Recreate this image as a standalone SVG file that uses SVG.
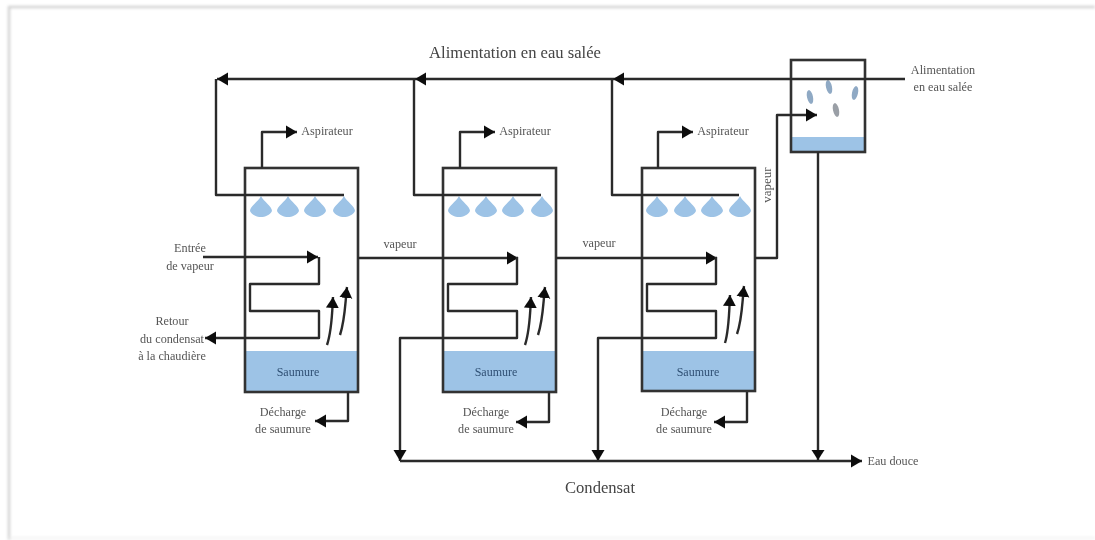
<svg xmlns="http://www.w3.org/2000/svg" width="1095" height="540" viewBox="0 0 1095 540">
<style>
.l{fill:none;stroke:#2b2b2b;stroke-width:2.4;stroke-linejoin:round}
.t{fill:none;stroke:#333;stroke-width:2.6}
.b{fill:#9dc3e6}
.n{fill:#9dc3e6}
text{font-family:"Liberation Serif",serif;fill:#555;font-size:12.2px;text-anchor:middle}
.big{font-size:16.6px;fill:#444}
.s{fill:#2f4f73;font-size:12px}
</style>
<defs>
<filter id="soft" x="-5%" y="-5%" width="110%" height="110%"><feGaussianBlur stdDeviation="0.75"/></filter>
<filter id="edge" x="-5%" y="-5%" width="110%" height="110%"><feGaussianBlur stdDeviation="1.5"/></filter>
<marker id="a" markerUnits="userSpaceOnUse" markerWidth="12" markerHeight="14" refX="11" refY="7" orient="auto"><path d="M0 0.5L11 7L0 13.5z" fill="#111"/></marker>
<g id="nozzle"><path d="M0 -10C3 -4 11 0 11 5C9 9 4 11 0 11C-4 11 -9 9 -11 5C-11 0 -3 -4 0 -10z" class="n"/></g>
</defs>
<rect width="1095" height="540" fill="#fff"/>
<g filter="url(#edge)" id="frame"><path d="M9 540V7H1095" fill="none" stroke="#c8c8c8" stroke-width="2"/><path d="M9 538H1095" fill="none" stroke="#eee" stroke-width="1.5"/></g>
<g filter="url(#soft)">
<g id="evaporator-1">
<rect x="245" y="351" width="113" height="41" class="b"/>
<rect x="245" y="168" width="113" height="224" class="t"/>
<use href="#nozzle" x="261" y="206"/><use href="#nozzle" x="288" y="206"/><use href="#nozzle" x="315" y="206"/><use href="#nozzle" x="344" y="206"/>
<text x="298" y="376" class="s">Saumure</text>
</g>
<g id="evaporator-2">
<rect x="443" y="351" width="113" height="41" class="b"/>
<rect x="443" y="168" width="113" height="224" class="t"/>
<use href="#nozzle" x="459" y="206"/><use href="#nozzle" x="486" y="206"/><use href="#nozzle" x="513" y="206"/><use href="#nozzle" x="542" y="206"/>
<text x="496" y="376" class="s">Saumure</text>
</g>
<g id="evaporator-3">
<rect x="642" y="351" width="113" height="40" class="b"/>
<rect x="642" y="168" width="113" height="223" class="t"/>
<use href="#nozzle" x="657" y="206"/><use href="#nozzle" x="685" y="206"/><use href="#nozzle" x="712" y="206"/><use href="#nozzle" x="740" y="206"/>
<text x="698" y="376" class="s">Saumure</text>
</g>
<g id="tank">
<rect x="791" y="137" width="74" height="15" class="b"/>
<rect x="791" y="60" width="74" height="92" class="t"/>
<ellipse cx="810" cy="97" rx="3" ry="7" transform="rotate(-12 810 97)" fill="#8fa9c4"/><ellipse cx="855" cy="93" rx="3" ry="7" transform="rotate(12 855 93)" fill="#8fa9c4"/><ellipse cx="836" cy="110" rx="3" ry="7" transform="rotate(-12 836 110)" fill="#9a9fa6"/><ellipse cx="829" cy="87" rx="3" ry="7" transform="rotate(-12 829 87)" fill="#8fa9c4"/>
</g>
<g id="connectors">
<path class="l" d="M905 79H217" marker-end="url(#a)"/>
<path class="l" d="M216 79V195H344M414 79V195H541M612 79V195H739"/>
<path d="M426 72.5L415 79L426 85.500zM624 72.500L613 79L624 85.500z" fill="#111"/>
<path class="l" d="M262 168V132H297" marker-end="url(#a)"/>
<path class="l" d="M460 168V132H495" marker-end="url(#a)"/>
<path class="l" d="M658 168V132H693" marker-end="url(#a)"/>
<path class="l" d="M203 257H318" marker-end="url(#a)"/>
<path class="l" d="M358 258H518" marker-end="url(#a)"/>
<path class="l" d="M556 258H717" marker-end="url(#a)"/>
<path class="l" d="M319 257V284H250V311H319V338H205" marker-end="url(#a)"/>
<path class="l" d="M517 257V284H448V311H517V338H400V461" marker-end="url(#a)"/>
<path class="l" d="M716 257V284H647V311H716V338H598V461" marker-end="url(#a)"/>
<path class="l" d="M327 345C332 330 332 315 333 297" marker-end="url(#a)"/>
<path class="l" d="M340 335C345 320 345 305 347 287" marker-end="url(#a)"/>
<path class="l" d="M525 345C530 330 530 315 531 297" marker-end="url(#a)"/>
<path class="l" d="M538 335C543 320 543 305 545 287" marker-end="url(#a)"/>
<path class="l" d="M725 343C729 330 729 315 730 295" marker-end="url(#a)"/>
<path class="l" d="M737 334C742 320 742 305 744 286" marker-end="url(#a)"/>
<path class="l" d="M755 258H777V115H817" marker-end="url(#a)"/>
<path class="l" d="M348 392V421H315" marker-end="url(#a)"/>
<path class="l" d="M549 392V422H516" marker-end="url(#a)"/>
<path class="l" d="M747 392V422H714" marker-end="url(#a)"/>
<path class="l" d="M818 152V461"/>
<path class="l" d="M400 461H862" marker-end="url(#a)"/>
<path d="M811.500 450L818 460L824.500 450z" fill="#111"/>
</g>
<g id="labels">
<text x="515" y="58" class="big">Alimentation en eau salée</text>
<text x="600" y="493" class="big">Condensat</text>
<text x="943" y="74">Alimentation</text><text x="943" y="91">en eau salée</text>
<text x="327" y="135">Aspirateur</text><text x="525" y="135">Aspirateur</text><text x="723" y="135">Aspirateur</text>
<text x="190" y="252">Entrée</text><text x="190" y="270">de vapeur</text>
<text x="172" y="325">Retour</text><text x="172" y="343">du condensat</text><text x="172" y="360">à la chaudière</text>
<text x="283" y="416">Décharge</text><text x="283" y="433">de saumure</text>
<text x="486" y="416">Décharge</text><text x="486" y="433">de saumure</text>
<text x="684" y="416">Décharge</text><text x="684" y="433">de saumure</text>
<text x="400" y="248">vapeur</text><text x="599" y="247">vapeur</text>
<text x="893" y="465">Eau douce</text>
<text transform="translate(771 185) rotate(-90)" style="font-size:13px">vapeur</text>
</g>
</g>
</svg>
